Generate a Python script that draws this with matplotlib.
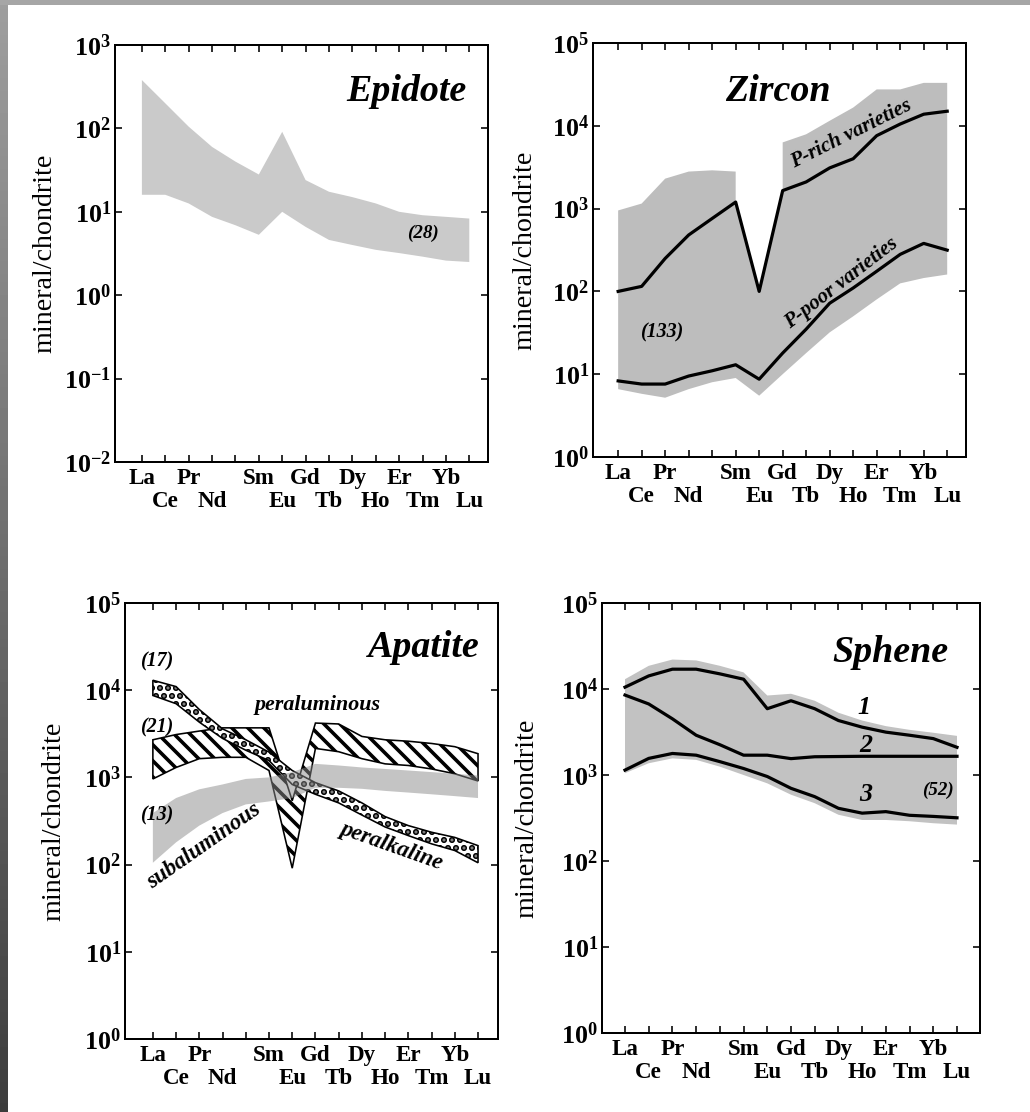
import numpy as np
import matplotlib
matplotlib.use('Agg')
import matplotlib.pyplot as plt
from matplotlib.ticker import NullLocator

plt.rcParams['font.family'] = 'serif'
plt.rcParams['font.serif'] = ['Liberation Serif', 'DejaVu Serif']
plt.rcParams['mathtext.fontset'] = 'custom'
plt.rcParams['mathtext.rm'] = 'Liberation Serif'
plt.rcParams['mathtext.bf'] = 'Liberation Serif:bold'
plt.rcParams['mathtext.it'] = 'Liberation Serif:italic'
plt.rcParams['hatch.linewidth'] = 1.8

W, H, DPI = 1030, 1112, 144

# REE order on the x axis (Pm has a tick but no label)
ree = ['La', 'Ce', 'Pr', 'Nd', 'Pm', 'Sm', 'Eu', 'Gd', 'Tb', 'Dy', 'Ho', 'Er', 'Tm', 'Yb', 'Lu']
upper_row = ['La', 'Pr', 'Sm', 'Gd', 'Dy', 'Er', 'Yb']
lower_row = ['Ce', 'Nd', 'Eu', 'Tb', 'Ho', 'Tm', 'Lu']
x = np.arange(len(ree))

# --- Epidote: range of 28 analyses
epi_top = [380, 200, 105, 60, 40, 28, 91, 24, 17.4, 15, 12.6, 10, 9.1, 8.7, 8.3]
epi_bot = [16, 16, 12.6, 8.7, 6.9, 5.3, 10, 6.6, 4.6, 4.0, 3.5, 3.2, 2.9, 2.6, 2.5]

# --- Zircon: range of 133 analyses + two typical patterns
zrc_top_x = [0, 1, 2, 3, 4, 5, 5, 6, 7, 7, 8, 9, 10, 11, 12, 13, 14]
zrc_top = [950, 1150, 2300, 2800, 2900, 2800, 1200, 100, 1650, 6300, 7900, 11500, 16600, 27500, 27500, 33000, 33000]
zrc_bot = [6.6, 5.8, 5.2, 6.6, 8, 9, 5.5, 10, 18, 32, 50, 80, 125, 145, 160]
zrc_prich = [100, 115, 250, 480, 760, 1200, 100, 1650, 2100, 3100, 4000, 7600, 10500, 13800, 15000]
zrc_ppoor = [8.3, 7.6, 7.6, 9.5, 11, 13, 8.7, 18, 35, 72, 110, 175, 280, 380, 315]

# --- Apatite: three granite types
apa_peralk_top = [13000, 11000, 6000, 3600, 2700, 1950, 1200, 870, 700, 510, 355, 280, 235, 205, 165]
apa_peralk_bot = [8700, 7000, 4300, 2800, 2050, 1560, 830, 640, 510, 370, 270, 215, 173, 145, 105]
apa_peralu_top = [2700, 3100, 3400, 3700, 3700, 3700, 540, 4200, 4100, 2950, 2700, 2600, 2450, 2250, 1870]
apa_peralu_bot = [960, 1300, 1640, 1700, 1700, 1200, 91, 2150, 1970, 1640, 1430, 1370, 1250, 1100, 910]
apa_subal_top = [390, 580, 730, 830, 960, 1000, 1150, 1430, 1370, 1300, 1250, 1200, 1150, 1100, 1050]
apa_subal_bot = [105, 180, 280, 390, 490, 530, 580, 760, 760, 740, 700, 670, 640, 610, 580]

# --- Sphene: range of 52 analyses + patterns 1-3
sph_top = [13000, 18600, 22000, 21500, 18600, 15600, 8400, 8800, 7300, 5300, 4300, 3700, 3350, 3100, 2850]
sph_bot = [1050, 1370, 1560, 1500, 1250, 1000, 800, 590, 470, 345, 300, 300, 290, 275, 265]
sph_1 = [10500, 14200, 17000, 17000, 15000, 13000, 5900, 7300, 5900, 4300, 3600, 3150, 2900, 2650, 2100]
sph_2 = [8500, 6700, 4500, 2900, 2250, 1700, 1700, 1550, 1630, 1640, 1650, 1650, 1650, 1650, 1650]
sph_3 = [1140, 1560, 1780, 1700, 1430, 1190, 960, 700, 560, 410, 360, 375, 340, 330, 318]

fig = plt.figure(figsize=(W / DPI, H / DPI), dpi=DPI)


def make_axes(left, top, right, bottom, xlim, ylo, yhi):
    ax = fig.add_axes([left / W, 1 - bottom / H, (right - left) / W, (bottom - top) / H])
    ax.set_yscale('log')
    ax.set_ylim(10.0 ** ylo, 10.0 ** yhi)
    ax.set_xlim(*xlim)
    # upper row of element names on the major ticks, lower row on minor ones
    ax.xaxis.remove_overlapping_locs = False
    ax.set_xticks(x)
    ax.set_xticklabels([r if r in upper_row else '' for r in ree], fontsize=11.5, fontweight='bold')
    low = [i for i, r in enumerate(ree) if r in lower_row]
    ax.set_xticks(low, minor=True)
    ax.set_xticklabels(lower_row, minor=True, fontsize=11.5, fontweight='bold')
    ax.tick_params(axis='x', which='minor', length=0, pad=14.5, top=False)
    exps = list(range(ylo, yhi + 1))
    ax.set_yticks([10.0 ** e for e in exps])
    ax.set_yticklabels([r'$\mathbf{10^{%d}}$' % e for e in exps], fontsize=13)
    ax.yaxis.set_minor_locator(NullLocator())
    ax.tick_params(which='major', direction='in', top=True, right=True, length=3.5, width=0.8)
    ax.tick_params(axis='x', which='major', pad=3)
    ax.tick_params(axis='y', pad=2)
    for s in ax.spines.values():
        s.set_linewidth(1.0)
    return ax


def ylabel(xpx, ypx):
    fig.text(xpx / W, 1 - ypx / H, 'mineral/chondrite', rotation=90,
             ha='center', va='center', fontsize=14)


def note(ax, xx, yy, s, size=10, rot=0):
    ax.text(xx, yy, s, fontsize=size, fontweight='bold', fontstyle='italic',
            ha='center', va='center', rotation=rot, rotation_mode='anchor', zorder=6)


# Epidote
ax1 = make_axes(115, 45, 488, 462, (-1.15, 14.8), -2, 3)
ax1.fill(np.r_[x, x[::-1]], np.r_[epi_top, epi_bot[::-1]], color='#cacaca', lw=0, zorder=1)
note(ax1, 11.3, 275, 'Epidote', size=19)
note(ax1, 12.0, 5.5, '(28)', size=9.5)
ylabel(45, 253)

# Zircon
ax2 = make_axes(593, 43, 966, 457, (-1.07, 14.8), 0, 5)
ax2.fill(np.r_[zrc_top_x, x[::-1]], np.r_[zrc_top, zrc_bot[::-1]], color='#bdbdbd', lw=0, zorder=1)
ax2.plot(x, zrc_prich, color='black', lw=1.6, zorder=3)
ax2.plot(x, zrc_ppoor, color='black', lw=1.6, zorder=3)
note(ax2, 6.8, 26000, 'Zircon', size=19)
note(ax2, 1.86, 32, '(133)', size=10)
note(ax2, 9.9, 7900, 'P-rich varieties', size=10.5, rot=26.5)
note(ax2, 9.5, 126, 'P-poor varieties', size=10.5, rot=37.5)
ylabel(525, 250)

# Apatite
ax3 = make_axes(125, 603, 498, 1039, (-1.2, 14.86), 0, 5)
ax3.fill(np.r_[x, x[::-1]], np.r_[apa_peralu_top, apa_peralu_bot[::-1]],
         facecolor='none', edgecolor='black', hatch='\\\\\\', lw=0.8, zorder=2)
peralk = ax3.fill(np.r_[x, x[::-1]], np.r_[apa_peralk_top, apa_peralk_bot[::-1]],
                  facecolor='white', edgecolor='black', hatch='...', lw=0.8, zorder=3)[0]
peralk.set_hatch_linewidth(2.2)
ax3.fill(np.r_[x, x[::-1]], np.r_[apa_subal_top, apa_subal_bot[::-1]],
         color='#8a8a8a', alpha=0.5, lw=0, zorder=4)
note(ax3, 11.65, 31000, 'Apatite', size=19)
note(ax3, 0.15, 21500, '(17)', size=10)
note(ax3, 0.15, 3700, '(21)', size=10)
note(ax3, 0.15, 370, '(13)', size=10)
note(ax3, 7.1, 6700, 'peraluminous', size=11)
note(ax3, 2.2, 165, 'subaluminous', size=11.5, rot=35)
note(ax3, 10.3, 165, 'peralkaline', size=11.5, rot=-19.5)
ylabel(54, 821)

# Sphene
ax4 = make_axes(602, 603, 980, 1033, (-0.97, 14.97), 0, 5)
ax4.fill(np.r_[x, x[::-1]], np.r_[sph_top, sph_bot[::-1]], color='#c2c2c2', lw=0, zorder=1)
for line in (sph_1, sph_2, sph_3):
    ax4.plot(x, line, color='black', lw=1.6, zorder=3)
note(ax4, 11.2, 26600, 'Sphene', size=19)
note(ax4, 10.07, 6100, '1', size=13)
note(ax4, 10.14, 2230, '2', size=13)
note(ax4, 10.14, 590, '3', size=13)
note(ax4, 13.2, 670, '(52)', size=9.5)
ylabel(527, 818)

# scanned page border
edge = fig.add_axes([0, 0, 8 / W, 1])
edge.imshow(np.linspace(0.62, 0.24, 256)[:, None], cmap='gray', vmin=0, vmax=1, aspect='auto')
edge.axis('off')
fig.add_artist(plt.Rectangle((0, 1 - 5 / H), 1, 5 / H, transform=fig.transFigure,
                             color='#a6a6a6', lw=0))

fig.savefig('out.png', dpi=DPI)
